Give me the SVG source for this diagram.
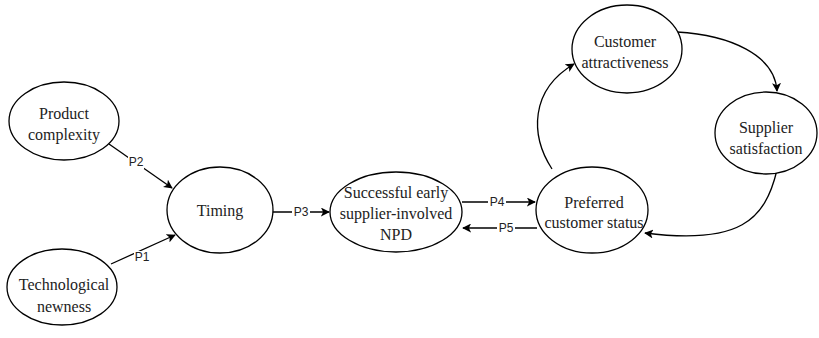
<svg xmlns="http://www.w3.org/2000/svg" width="819" height="338" viewBox="0 0 819 338">
<style>
.node ellipse{fill:#fff;stroke:#000;stroke-width:1.3}
.node text{font-family:"Liberation Serif",serif;font-size:16px;fill:#222;text-anchor:middle}
.edge{fill:none;stroke:#000;stroke-width:1.3;marker-end:url(#arr)}
.lbl{font-family:"Liberation Sans",sans-serif;font-size:12px;fill:#222;text-anchor:middle;dominant-baseline:central}
.lblbg{fill:#fff}
</style>
<defs>
<marker id="arr" viewBox="0 0 10 10" refX="9" refY="5" markerWidth="9" markerHeight="9" markerUnits="userSpaceOnUse" orient="auto">
<path d="M0,0 L10,5 L0,10 L2.5,5 Z" fill="#000"/>
</marker>
</defs>
<rect width="819" height="338" fill="#fff"/>
<g id="connectors">
<path class="edge" d="M109,144 L172,188"/>
<path class="edge" d="M111,264 L175,235"/>
<path class="edge" d="M273,212 L329,212"/>
<path class="edge" d="M462,202 L535,202"/>
<path class="edge" d="M537,228 L463,228"/>
<path class="edge" d="M552,169 C530,135 530,90 574,64"/>
<path class="edge" d="M677,32 C730,35 775,55 777,91"/>
<path class="edge" d="M777,170 C765,220 740,245 645,233"/>
<rect class="lblbg" x="128" y="156" width="16" height="13"/>
<text class="lbl" x="136" y="162">P2</text>
<rect class="lblbg" x="134" y="251" width="16" height="13"/>
<text class="lbl" x="142" y="257">P1</text>
<rect class="lblbg" x="292" y="205" width="18" height="13"/>
<text class="lbl" x="301" y="212">P3</text>
<rect class="lblbg" x="488" y="195" width="18" height="13"/>
<text class="lbl" x="497" y="202">P4</text>
<rect class="lblbg" x="497" y="221" width="18" height="13"/>
<text class="lbl" x="506" y="228">P5</text>
</g>
<g id="product-complexity" class="node">
<ellipse cx="64" cy="121" rx="55" ry="39"/>
<text x="64" y="119">Product</text>
<text x="64" y="140">complexity</text>
</g>
<g id="timing" class="node">
<ellipse cx="220" cy="210" rx="53" ry="43"/>
<text x="220" y="216">Timing</text>
</g>
<g id="technological-newness" class="node">
<ellipse cx="62" cy="287" rx="55" ry="38"/>
<text x="64" y="290">Technological</text>
<text x="64" y="312">newness</text>
</g>
<g id="successful-npd" class="node">
<ellipse cx="396" cy="212" rx="66" ry="40"/>
<text x="396" y="198">Successful early</text>
<text x="396" y="219">supplier-involved</text>
<text x="396" y="240">NPD</text>
</g>
<g id="preferred-customer-status" class="node">
<ellipse cx="592" cy="210" rx="56" ry="43"/>
<text x="594" y="208">Preferred</text>
<text x="594" y="228">customer status</text>
</g>
<g id="customer-attractiveness" class="node">
<ellipse cx="627" cy="49" rx="55" ry="44"/>
<text x="625" y="47">Customer</text>
<text x="625" y="68">attractiveness</text>
</g>
<g id="supplier-satisfaction" class="node">
<ellipse cx="766" cy="133" rx="51" ry="41"/>
<text x="766" y="133">Supplier</text>
<text x="766" y="154">satisfaction</text>
</g>
</svg>
